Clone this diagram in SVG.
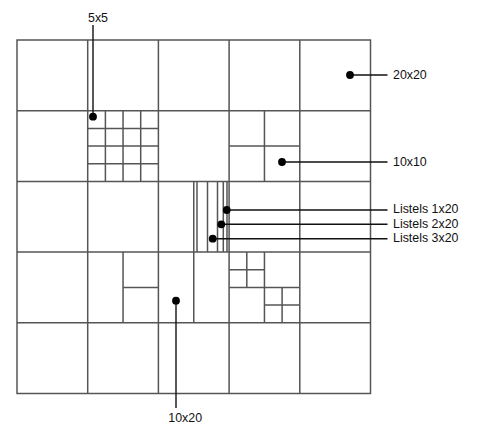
<svg xmlns="http://www.w3.org/2000/svg" width="479" height="444" viewBox="0 0 479 444">
<style>
.g{stroke:#555;stroke-width:1.5;fill:none}
.l{stroke:#111;stroke-width:1.4;fill:none}
.d{fill:#000}
text{font-family:"Liberation Sans","Noto Sans",Arial,sans-serif;font-size:12.4px;fill:#111}
</style>
<rect width="479" height="444" fill="#fff"/>
<g id="grid" class="g">
<rect x="17" y="40" width="353.5" height="353.5"/>
<path d="M87.7 40V393.5M158.4 40V393.5M229.1 40V393.5M299.8 40V393.5M17 110.7H370.5M17 181.4H370.5M17 252.1H370.5M17 322.8H370.5"/>
</g>
<g id="tile-5x5" class="g">
<path d="M105.4 110.7V181.4M123.05 110.7V181.4M140.7 110.7V181.4M87.7 128.4H158.4M87.7 146.05H158.4M87.7 163.7H158.4"/>
</g>
<g id="tile-10x10" class="g">
<path d="M264.45 110.7V181.4M229.1 146.05H299.8"/>
</g>
<g id="tile-listels" class="g">
<path d="M193.75 181.4V252.1M197 181.4V252.1M207.5 181.4V252.1M217.5 181.4V252.1M223.3 181.4V252.1M227 181.4V252.1"/>
</g>
<g id="tile-mixed-left" class="g">
<path d="M123.05 252.1V322.8M123.05 287.45H158.4"/>
</g>
<g id="tile-10x20" class="g">
<path d="M193.75 252.1V322.8"/>
</g>
<g id="tile-mixed-right" class="g">
<path d="M264.45 252.1V322.8M229.1 287.45H299.8M246.8 252.1V287.45M229.1 269.8H264.45M282.1 287.45V322.8M264.45 305.1H299.8"/>
</g>
<g id="connectors" class="l">
<path d="M93 116.7V25"/>
<path d="M350 75H387.5"/>
<path d="M282 162H387.5"/>
<path d="M226.7 210H387.5"/>
<path d="M221.3 224.3H387.5"/>
<path d="M212.7 238.7H387.5"/>
<path d="M176 300.7V408"/>
</g>
<g id="dots" class="d">
<circle cx="93" cy="116.7" r="3.9"/>
<circle cx="350" cy="75" r="3.9"/>
<circle cx="282" cy="162" r="3.9"/>
<circle cx="226.7" cy="210" r="3.9"/>
<circle cx="221.3" cy="224.3" r="3.9"/>
<circle cx="212.7" cy="238.7" r="3.9"/>
<circle cx="176" cy="300.7" r="3.9"/>
</g>
<g id="labels">
<text x="88" y="22">5x5</text>
<text x="393" y="78.5">20x20</text>
<text x="393" y="165.7">10x10</text>
<text x="393" y="213">Listels 1x20</text>
<text x="393" y="227.5">Listels 2x20</text>
<text x="393" y="242">Listels 3x20</text>
<text x="168.3" y="422">10x20</text>
</g>
</svg>
